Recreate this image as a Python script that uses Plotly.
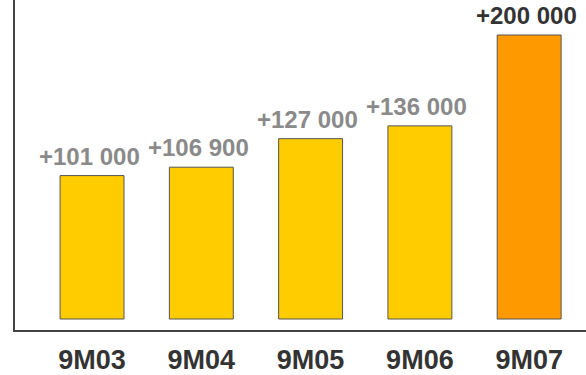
import plotly.graph_objects as go

# Nine-month cumulative growth by year
periods = ["9M03", "9M04", "9M05", "9M06", "9M07"]
growth = [101000, 106900, 127000, 136000, 200000]
value_labels = ["+101 000", "+106 900", "+127 000", "+136 000", "+200 000"]

bar_colors = ["#FFCC00", "#FFCC00", "#FFCC00", "#FFCC00", "#FF9900"]
label_colors = ["#8a8a8a", "#8a8a8a", "#8a8a8a", "#8a8a8a", "#333333"]

fig = go.Figure()
fig.add_trace(go.Bar(
    x=list(range(len(periods))),
    y=growth,
    width=0.585,
    marker=dict(color=bar_colors, line=dict(color="#555555", width=1)),
    hoverinfo="skip",
))

for i, (v, txt, col) in enumerate(zip(growth, value_labels, label_colors)):
    fig.add_annotation(
        x=i, y=v, text=f"<b>{txt}</b>", showarrow=False,
        xanchor="center", yanchor="bottom", yshift=4, xshift=-3,
        font=dict(family="Liberation Sans, Arial, sans-serif", size=24, color=col),
    )

fig.update_layout(
    width=586, height=375,
    margin=dict(l=15, r=0, t=0, b=45),
    paper_bgcolor="white", plot_bgcolor="white",
    showlegend=False,
    xaxis=dict(
        range=[-0.705, 4.52],
        tickmode="array",
        tickvals=list(range(len(periods))),
        ticktext=[f"<b>{p}</b>" for p in periods],
        tickfont=dict(family="Liberation Sans, Arial, sans-serif", size=27, color="#333333"),
        showgrid=False, zeroline=False, automargin=False,
        showline=True, linecolor="#444444", linewidth=1.5,
        ticks="", ticklabelstandoff=5,
    ),
    yaxis=dict(
        range=[-7750, 224650],
        showgrid=False, zeroline=False, automargin=False,
        showticklabels=False, ticks="",
        showline=True, linecolor="#444444", linewidth=1.5,
    ),
)

fig.write_html("out.html")
